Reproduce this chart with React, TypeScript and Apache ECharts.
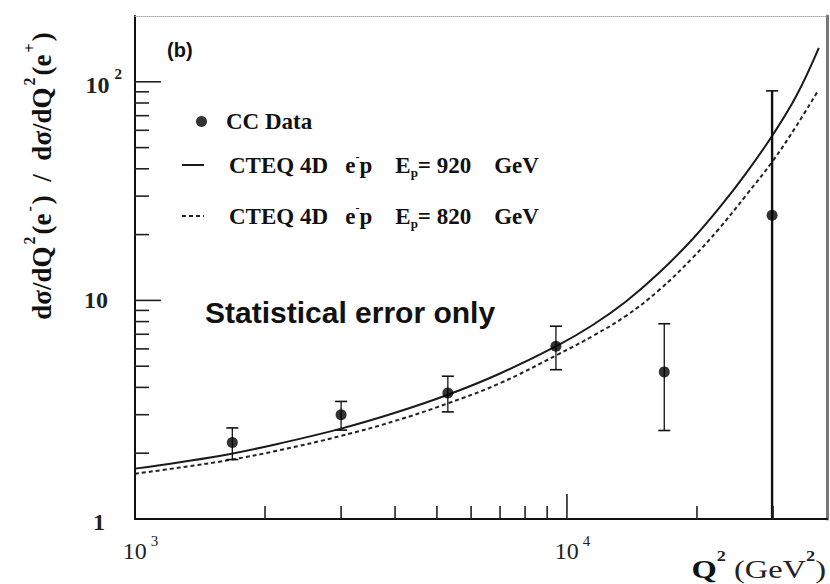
import React, { useEffect, useRef } from 'react';
import * as echarts from 'echarts';

// ---- data ----
const curveQ2_920 = [1000, 1270, 1650, 2150, 3000, 4000, 5300, 7000, 9500, 11500, 13700, 16300, 19500, 22500, 26000, 30000, 34000, 38300];
const curveY_920 = [1.70, 1.82, 1.98, 2.21, 2.59, 3.06, 3.70, 4.63, 6.21, 7.74, 9.89, 13.3, 19.0, 26.4, 38.2, 57.4, 86.5, 143];
const curveQ2_820 = [1000, 1270, 1650, 2150, 3000, 4000, 5300, 7000, 9500, 11500, 13700, 16300, 19500, 22500, 26000, 30000, 34000, 38000];
const curveY_820 = [1.61, 1.72, 1.86, 2.06, 2.40, 2.81, 3.38, 4.18, 5.64, 6.89, 8.50, 11.1, 15.6, 21.3, 30.3, 43.6, 63.0, 90.0];

const dataQ2 = [1680, 3000, 5300, 9430, 16800, 29850];
const dataY = [2.24, 3.0, 3.77, 6.17, 4.71, 24.5];
const dataErrLow = [1.87, 2.55, 3.09, 4.82, 2.54, 0.1];
const dataErrHigh = [2.61, 3.45, 4.50, 7.62, 7.82, 90.9];

const xMinorTicks = [2000, 3000, 4000, 5000, 6000, 7000, 8000, 9000, 20000, 30000];
const xMajorTicks = [10000];
const yMinorTicks = [2, 3, 4, 5, 6, 7, 8, 9, 20, 30, 40, 50, 60, 70, 80, 90];
const yMajorTicks = [10, 100];

const X_MIN = 1000;
const X_MAX = 40000;
const Y_MIN = 1;
const Y_MAX = 200;

const NAME_DATA = 'CC Data';
const NAME_920 = 'CTEQ 4D e-p Ep=920 GeV';
const NAME_820 = 'CTEQ 4D e-p Ep=820 GeV';

const SERIF = '"Liberation Serif", "DejaVu Serif", serif';
const SANS = '"Liberation Sans", Arial, sans-serif';

function isPow(v: number, p: number) {
  return Math.abs(Math.log10(v) - p) < 0.01;
}

function xTickSeries(values: number[], len: number) {
  return {
    type: 'custom',
    silent: true,
    data: values.map((v) => [v, Y_MIN]),
    encode: { x: 0, y: 1 },
    renderItem: (params: any, api: any) => {
      const p = api.coord([api.value(0), api.value(1)]);
      return {
        type: 'line',
        shape: { x1: p[0], y1: p[1], x2: p[0], y2: p[1] - len },
        style: { stroke: '#222', lineWidth: 1.6 },
      };
    },
    z: 5,
  };
}

function yTickSeries(values: number[], len: number) {
  return {
    type: 'custom',
    silent: true,
    data: values.map((v) => [X_MIN, v]),
    encode: { x: 0, y: 1 },
    renderItem: (params: any, api: any) => {
      const p = api.coord([api.value(0), api.value(1)]);
      return {
        type: 'line',
        shape: { x1: p[0], y1: p[1], x2: p[0] + len, y2: p[1] },
        style: { stroke: '#222', lineWidth: 1.6 },
      };
    },
    z: 5,
  };
}

export default function App() {
  const ref = useRef<HTMLDivElement>(null);

  useEffect(() => {
    if (!ref.current) return;
    const chart = echarts.init(ref.current, null, { renderer: 'svg' });

    const legendRich = {
      t: { fontFamily: SERIF, fontWeight: 'bold', fontSize: 23, lineHeight: 28, color: '#111' },
      tp: { fontFamily: SERIF, fontWeight: 'bold', fontSize: 23, lineHeight: 28, color: '#111', padding: [0, 0, 0, 20] },
      tc: { fontFamily: SERIF, fontWeight: 'bold', fontSize: 23, lineHeight: 28, color: '#111', padding: [0, 0, 0, 14] },
      sup: { fontFamily: SERIF, fontWeight: 'bold', fontSize: 12, lineHeight: 12, verticalAlign: 'top', color: '#111' },
      sub: { fontFamily: SERIF, fontWeight: 'bold', fontSize: 13, lineHeight: 12, verticalAlign: 'bottom', color: '#111' },
    };

    const option: any = {
      animation: false,
      backgroundColor: '#fff',
      grid: { left: 135, right: 3, top: 16, bottom: 65, containLabel: false },
      xAxis: [
        {
          type: 'log',
          logBase: 10,
          min: X_MIN,
          max: X_MAX,
          axisLine: { show: true, lineStyle: { color: '#111', width: 2 } },
          axisTick: { show: false },
          splitLine: { show: false },
          axisLabel: {
            margin: 14,
            formatter: (v: number) => {
              if (isPow(v, 3)) return '{b|10}{s|3}';
              if (isPow(v, 4)) return '{b|10}{s|4}';
              return '';
            },
            rich: {
              b: { fontFamily: SERIF, fontSize: 24, lineHeight: 30, verticalAlign: 'bottom', color: '#222', padding: [0, 0, 0, 11] },
              s: { fontFamily: SERIF, fontSize: 15, lineHeight: 16, verticalAlign: 'top', color: '#222', padding: [0, 0, 0, 4] },
            },
          },
        },
        {
          type: 'value',
          position: 'top',
          min: 0,
          max: 1,
          axisLine: { show: true, lineStyle: { color: '#aaa', width: 1, type: 'dotted' } },
          axisTick: { show: false },
          axisLabel: { show: false },
          splitLine: { show: false },
        },
      ],
      yAxis: [
        {
          type: 'log',
          logBase: 10,
          min: Y_MIN,
          max: Y_MAX,
          axisLine: { show: true, lineStyle: { color: '#111', width: 2 } },
          axisTick: { show: false },
          splitLine: { show: false },
          axisLabel: {
            margin: 13,
            formatter: (v: number) => {
              if (isPow(v, 2)) return '{b|10}{s|2}';
              if (isPow(v, 1)) return '{p|10}';
              if (isPow(v, 0)) return '{q|1}';
              return '';
            },
            rich: {
              b: { fontFamily: SERIF, fontWeight: 'bold', fontSize: 24, lineHeight: 30, verticalAlign: 'bottom', color: '#222' },
              s: { fontFamily: SERIF, fontWeight: 'bold', fontSize: 15, lineHeight: 16, verticalAlign: 'top', color: '#222', padding: [0, 0, 0, 5] },
              p: { fontFamily: SERIF, fontWeight: 'bold', fontSize: 24, lineHeight: 26, color: '#222', padding: [0, 14, 0, 0] },
              q: { fontFamily: SERIF, fontWeight: 'bold', fontSize: 24, lineHeight: 26, color: '#222', padding: [6, 17, 0, 0] },
            },
          },
        },
        {
          type: 'value',
          position: 'right',
          min: 0,
          max: 1,
          axisLine: { show: true, lineStyle: { color: '#777', width: 3 } },
          axisTick: { show: false },
          axisLabel: { show: false },
          splitLine: { show: false },
        },
      ],
      legend: [
        {
          data: [NAME_DATA],
          orient: 'vertical',
          left: 191,
          top: 105,
          itemWidth: 11,
          itemHeight: 11,
          icon: 'circle',
          selectedMode: false,
          formatter: () => '{tc|CC Data}',
          textStyle: { rich: legendRich },
        },
        {
          data: [NAME_920, NAME_820],
          orient: 'vertical',
          left: 176,
          top: 146,
          itemGap: 23,
          itemWidth: 22,
          itemHeight: 10,
          selectedMode: false,
          itemStyle: { opacity: 0 },
          formatter: (name: string) =>
            name === NAME_920
              ? '{tp|CTEQ 4D}{t|   e}{sup|-}{t|p    E}{sub|p}{t|= 920    GeV}'
              : '{tp|CTEQ 4D}{t|   e}{sup|-}{t|p    E}{sub|p}{t|= 820    GeV}',
          textStyle: { rich: legendRich },
        },
      ],
      graphic: [
        {
          type: 'text',
          x: 167,
          y: 50,
          style: { text: '(b)', font: `bold 20px ${SANS}`, fill: '#111', verticalAlign: 'middle', align: 'left' },
        },
        {
          type: 'text',
          x: 205,
          y: 312,
          style: { text: 'Statistical error only', font: `bold 30px ${SANS}`, fill: '#111', verticalAlign: 'middle', align: 'left' },
        },
        {
          type: 'text',
          x: 826,
          y: 566,
          scaleX: 1.3,
          style: {
            text: '{q|Q}{s|2}{t| (GeV}{s|2}{t|)}',
            align: 'right',
            verticalAlign: 'middle',
            rich: {
              q: { fontFamily: SERIF, fontWeight: 'bold', fontSize: 25, lineHeight: 32, verticalAlign: 'bottom', fill: '#111', color: '#111' },
              t: { fontFamily: SERIF, fontWeight: 'normal', fontSize: 25, lineHeight: 31, verticalAlign: 'bottom', fill: '#222', color: '#222' },
              s: { fontFamily: SERIF, fontWeight: 'bold', fontSize: 14, lineHeight: 14, verticalAlign: 'top', fill: '#222', color: '#222' },
            },
          },
        },
        {
          type: 'text',
          x: 38,
          y: 176,
          rotation: Math.PI / 2,
          style: {
            text: '{t|dσ/dQ}{s|2}{t|(e}{s|-}{t|)  /  dσ/dQ}{s|2}{t|(e}{s|+}{t|)}',
            align: 'center',
            verticalAlign: 'middle',
            rich: {
              t: { fontFamily: SERIF, fontWeight: 'bold', fontSize: 27, lineHeight: 34, verticalAlign: 'bottom', fill: '#111', color: '#111' },
              s: { fontFamily: SERIF, fontWeight: 'bold', fontSize: 16, lineHeight: 16, verticalAlign: 'top', fill: '#111', color: '#111', padding: [0, 2, 0, 2] },
            },
          },
        },
      ],
      series: [
        {
          name: NAME_920,
          type: 'line',
          smooth: 0.4,
          symbol: 'none',
          data: curveQ2_920.map((q, i) => [q, curveY_920[i]]),
          lineStyle: { color: '#1a1a1a', width: 2, type: 'solid' },
          itemStyle: { color: '#1a1a1a' },
          z: 3,
        },
        {
          name: NAME_820,
          type: 'line',
          smooth: 0.4,
          symbol: 'none',
          data: curveQ2_820.map((q, i) => [q, curveY_820[i]]),
          lineStyle: { color: '#222', width: 2, type: [4, 3] },
          itemStyle: { color: '#222' },
          z: 3,
        },
        {
          name: 'errors',
          type: 'custom',
          clip: true,
          silent: true,
          data: dataQ2.map((q, i) => [q, dataErrLow[i], dataErrHigh[i]]),
          encode: { x: 0, y: [1, 2] },
          renderItem: (params: any, api: any) => {
            const x = api.value(0);
            const lo = api.value(1);
            const hi = api.value(2);
            const top = api.coord([x, hi]);
            const bot = api.coord([x, lo]);
            const clipped = lo < Y_MIN;
            const cap = 6;
            const children: any[] = [
              {
                type: 'line',
                shape: { x1: top[0], y1: top[1], x2: bot[0], y2: bot[1] },
                style: { stroke: '#111', lineWidth: clipped ? 2.4 : 1.3 },
              },
              {
                type: 'line',
                shape: { x1: top[0] - cap, y1: top[1], x2: top[0] + cap, y2: top[1] },
                style: { stroke: '#111', lineWidth: 1.6 },
              },
            ];
            if (!clipped) {
              children.push({
                type: 'line',
                shape: { x1: bot[0] - cap, y1: bot[1], x2: bot[0] + cap, y2: bot[1] },
                style: { stroke: '#111', lineWidth: 1.6 },
              });
            }
            return { type: 'group', children };
          },
          z: 4,
        },
        {
          name: NAME_DATA,
          type: 'scatter',
          symbol: 'circle',
          symbolSize: 11,
          data: dataQ2.map((q, i) => [q, dataY[i]]),
          itemStyle: { color: '#000' },
          z: 6,
        },
        xTickSeries(xMinorTicks, 13),
        xTickSeries(xMajorTicks, 25),
        yTickSeries(yMinorTicks, 14),
        yTickSeries(yMajorTicks, 26),
      ],
    };

    chart.setOption(option);
    return () => {
      chart.dispose();
    };
  }, []);

  return (
    <div
      ref={ref}
      style={{ position: 'fixed', left: 0, top: 0, width: 830, height: 584, background: '#fff' }}
    />
  );
}
